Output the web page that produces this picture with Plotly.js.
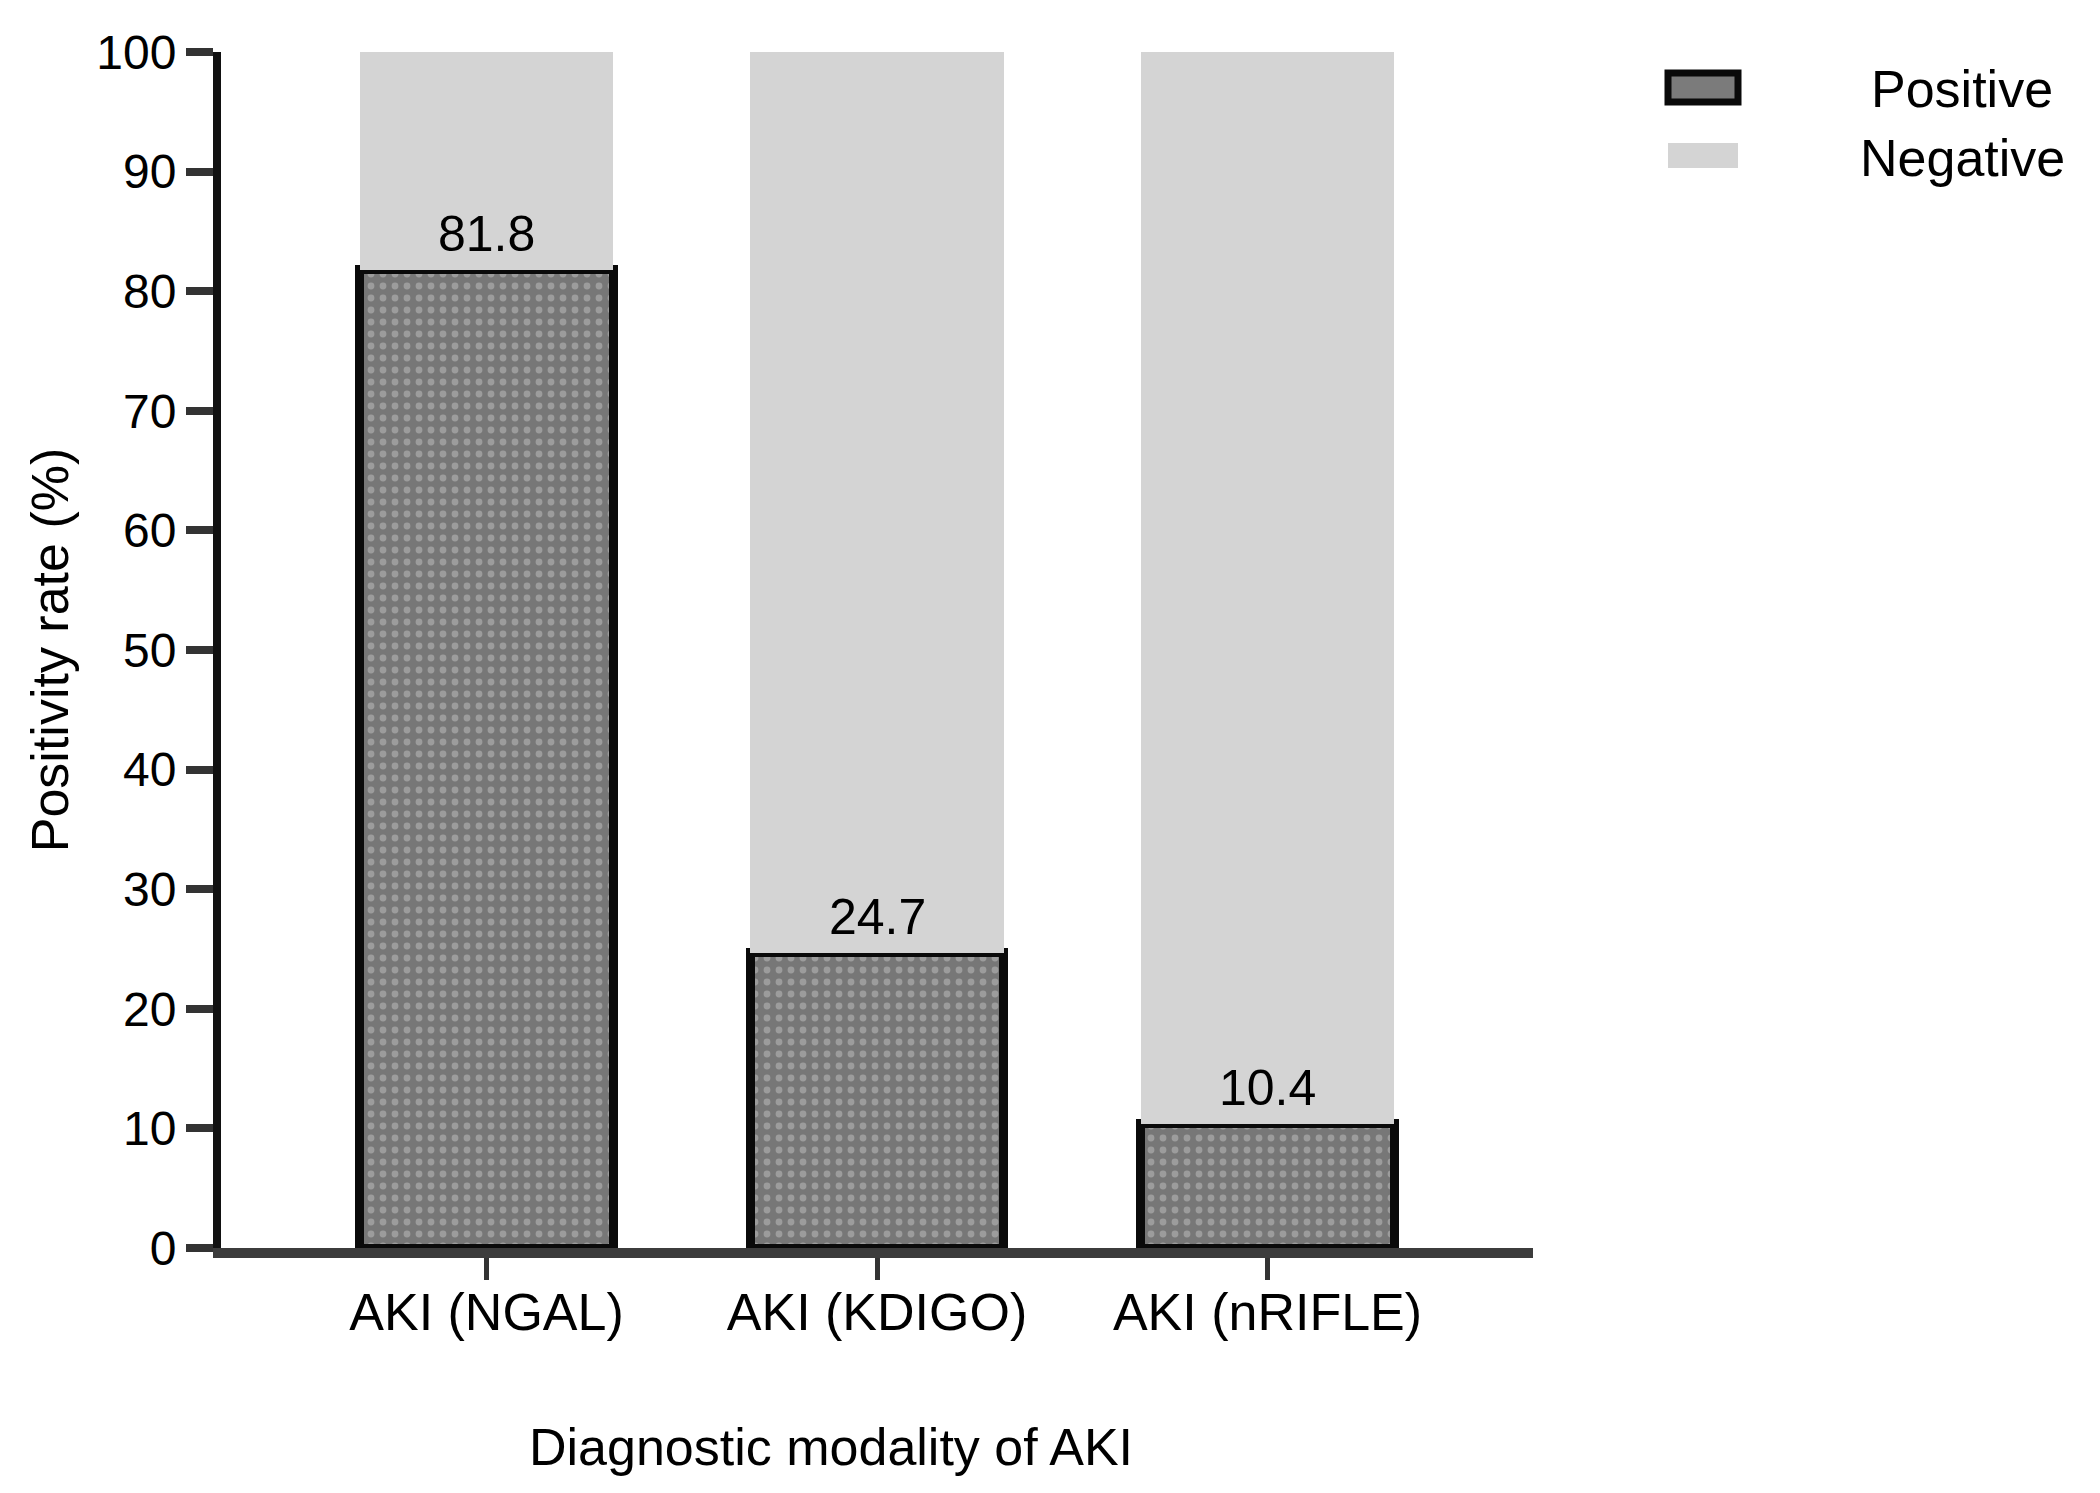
<!DOCTYPE html>
<html>
<head>
<meta charset="utf-8">
<script src="https://cdn.plot.ly/plotly-3.0.1.min.js"></script>
<style>
  body { margin: 0; background: white; }
  #graphe { width: 2100px; height: 1493px; }
</style>
</head>
<body>
<div id="graphe"></div>
<script>
let categories = ["AKI (NGAL)", "AKI (KDIGO)", "AKI (nRIFLE)"]
let positifs = [81.8, 24.7, 10.4]
let negatifs = [18.2, 75.3, 89.6]
let noms_series = ["Positive", "Negative"]
let ticks_y = [0, 10, 20, 30, 40, 50, 60, 70, 80, 90, 100]

let police = "Liberation Sans, Arial, sans-serif"
let marge = {l: 221, r: 567, t: 52, b: 245}
let largeur_plot = 2100 - marge.l - marge.r
let hauteur_plot = 1493 - marge.t - marge.b

// pixel -> paper, pour la legende et le titre x
function px_x(x){ return (x - marge.l) / largeur_plot }
function px_y(y){ return (1493 - marge.b - y) / hauteur_plot }

let trace_positif = {
    x: categories, y: positifs, type: "bar", name: noms_series[0],
    marker: {
        color: "#7b7b7b",
        line: {color: "#0a0a0a", width: 9},
        pattern: {shape: ".", bgcolor: "#777777", fgcolor: "#9c9c9c", size: 12, solidity: 0.25}
    },
    showlegend: false, hoverinfo: "none"
}
let trace_negatif = {
    x: categories, y: negatifs, type: "bar", name: noms_series[1],
    marker: {color: "#d4d4d4", line: {width: 0}},
    showlegend: false, hoverinfo: "none"
}

// valeurs au dessus des barres positives
let annotations = []
for (let i = 0; i < categories.length; i++){
    annotations.push({
        x: categories[i], y: positifs[i], xref: "x", yref: "y",
        text: positifs[i].toFixed(1), showarrow: false,
        yanchor: "bottom", yshift: 6,
        font: {family: police, size: 50, color: "black"}
    })
}

// titre de l'axe x, un peu decale a gauche comme l'original
annotations.push({
    x: px_x(831), y: px_y(1447), xref: "paper", yref: "paper",
    text: "Diagnostic modality of AKI", showarrow: false,
    xanchor: "center", yanchor: "middle",
    font: {family: police, size: 52, color: "black"}
})

// legende
let couleurs_legende = [
    {fill: "#7b7b7b", line: "#0a0a0a", lw: 7, y0: 73, y1: 102},
    {fill: "#d4d4d4", line: "#d4d4d4", lw: 0, y0: 143, y1: 168}
]
let shapes = []
for (let i = 0; i < noms_series.length; i++){
    let c = couleurs_legende[i]
    shapes.push({
        type: "rect", xref: "paper", yref: "paper",
        x0: px_x(1668), x1: px_x(1738), y0: px_y(c.y1), y1: px_y(c.y0),
        fillcolor: c.fill, line: {color: c.line, width: c.lw}
    })
    annotations.push({
        x: px_x(1962), y: px_y((c.y0 + c.y1) / 2 + 2), xref: "paper", yref: "paper",
        text: noms_series[i], showarrow: false, xanchor: "center", yanchor: "middle",
        font: {family: police, size: 52, color: "black"}
    })
}

let layout = {
    width: 2100, height: 1493,
    paper_bgcolor: "white", plot_bgcolor: "white",
    barmode: "stack", bargap: 0.35,
    margin: marge,
    font: {family: police, color: "black"},
    xaxis: {
        type: "category", range: [-0.68, 2.68],
        showline: true, linecolor: "#3c3c3c", linewidth: 10,
        ticks: "outside", ticklen: 22, tickwidth: 5, tickcolor: "#333",
        ticklabelstandoff: -12,
        tickfont: {family: police, size: 52, color: "black"},
        showgrid: false, zeroline: false
    },
    yaxis: {
        range: [0, 100], tickvals: ticks_y,
        showline: true, linecolor: "#111", linewidth: 8,
        ticks: "outside", ticklen: 27, tickwidth: 8, tickcolor: "#333",
        tickfont: {family: police, size: 48, color: "black"},
        showgrid: false, zeroline: false,
        title: {text: "Positivity rate (%)", standoff: 14,
            font: {family: police, size: 52, color: "black"}}
    },
    showlegend: false,
    annotations: annotations,
    shapes: shapes
}

Plotly.newPlot("graphe", [trace_positif, trace_negatif], layout, {staticPlot: true})
</script>
</body>
</html>
